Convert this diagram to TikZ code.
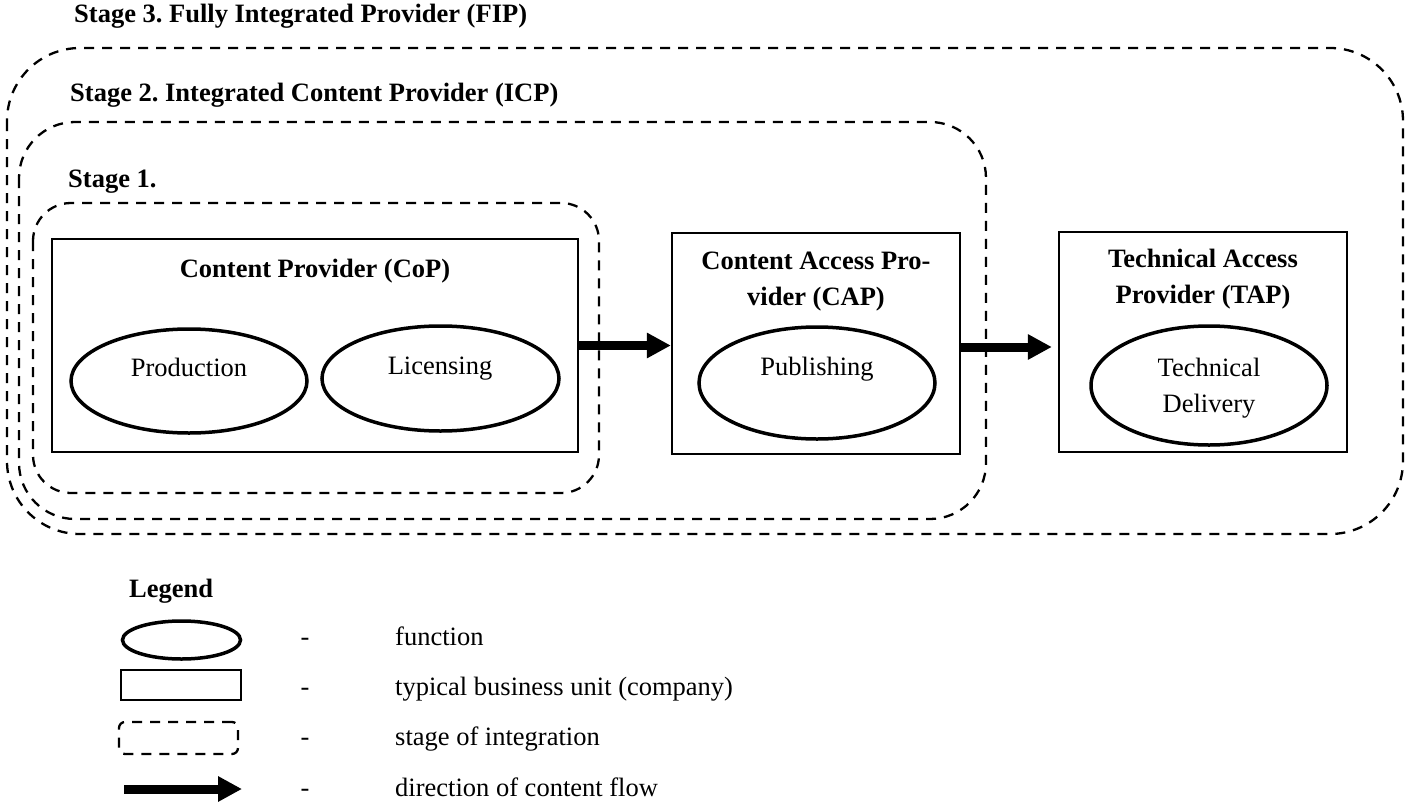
\documentclass[tikz,border=0pt]{standalone}
\usepackage{fontspec}
\setmainfont{Liberation Serif}
\usetikzlibrary{shapes.geometric, arrows.meta}

\newcommand{\figfont}{\fontsize{26.5}{36}\selectfont\frenchspacing}

\begin{document}
\begin{tikzpicture}[x=1pt, y=-1pt,
  txt/.style={inner sep=0pt, font=\figfont},
  btxt/.style={inner sep=0pt, font=\figfont\bfseries},
  unit/.style={draw, line width=2.3pt, inner sep=0pt},
  func/.style={draw, ellipse, line width=3.5pt, inner sep=0pt},
  stagebox/.style={line width=2.3pt, dash pattern=on 10pt off 8pt},
  flow/.style={line width=9pt, -{Triangle[length=24pt, width=24pt]}}]

\useasboundingbox (0,0) rectangle (1406,803);

% Stages of integration
\draw[stagebox, rounded corners=73pt] (7,48) rectangle (1403,534);
\draw[stagebox, rounded corners=56pt] (19,122) rectangle (986,519);
\draw[stagebox, rounded corners=38pt] (33,203) rectangle (599,493);
\node[btxt, anchor=base west] (st3) at (74,23) {Stage 3. Fully Integrated Provider (FIP)};
\node[btxt, anchor=base west] (st2) at (70,101) {Stage 2. Integrated Content Provider (ICP)};
\node[btxt, anchor=base west] (st1) at (68,187) {Stage 1.};

% Business units
\node[unit, minimum width=526pt, minimum height=213pt] (CoP) at (315,345.5) {};
\node[unit, minimum width=288pt, minimum height=221pt] (CAP) at (816,343.5) {};
\node[unit, minimum width=288pt, minimum height=220pt] (TAP) at (1203,342) {};
\node[btxt, anchor=base] (CoPt) at (315,277) {Content Provider (CoP)};
\node[btxt, align=center] (CAPt) at (816,282) {Content Access Pro-\\vider (CAP)};
\node[btxt, align=center] (TAPt) at (1203,279.5) {Technical Access\\Provider (TAP)};

% Functions
\node[func, minimum width=236pt, minimum height=104pt] (prod) at (189,381) {};
\node[func, minimum width=237pt, minimum height=105pt] (lic) at (440.5,378.5) {};
\node[func, minimum width=236pt, minimum height=112pt] (pub) at (817,383) {};
\node[func, minimum width=236pt, minimum height=119pt] (tdel) at (1209,385.5) {};
\node[txt, anchor=base] (prodt) at (189,376) {Production};
\node[txt, anchor=base] (lict) at (440,374) {Licensing};
\node[txt, anchor=base] (pubt) at (817,375) {Publishing};
\node[txt, align=center] (tdelt) at (1209,388) {Technical\\Delivery};

% Content flow
\draw[flow] (CoP.east) -- (CoP.east -| CAP.west);
\draw[flow, shorten >=6pt] ([yshift=-3.5pt]CAP.east) -- ([yshift=-3.5pt]CAP.east -| TAP.west);

% Legend
\node[btxt, anchor=base west] (lg) at (129,597) {Legend};
\node[func, minimum width=118pt, minimum height=38pt] (lgfunc) at (181.5,640) {};
\node[unit, minimum width=120pt, minimum height=30pt] (lgunit) at (181,685) {};
\node[draw, stagebox, rounded corners=6pt, minimum width=119pt, minimum height=32pt] (lgstage) at (178.5,738) {};
\coordinate (lgA) at (124,789);
\coordinate (lgB) at (242,789);
\draw[flow] (lgA) -- (lgB);
\foreach \y/\t [count=\i] in {645/function, 695/typical business unit (company), 745/stage of integration, 796/direction of content flow} {
  \node[txt, anchor=base] (lgd\i) at (305,\y) {-};
  \node[txt, anchor=base west] (lgt\i) at (395,\y) {\t};
}

\end{tikzpicture}
\end{document}
